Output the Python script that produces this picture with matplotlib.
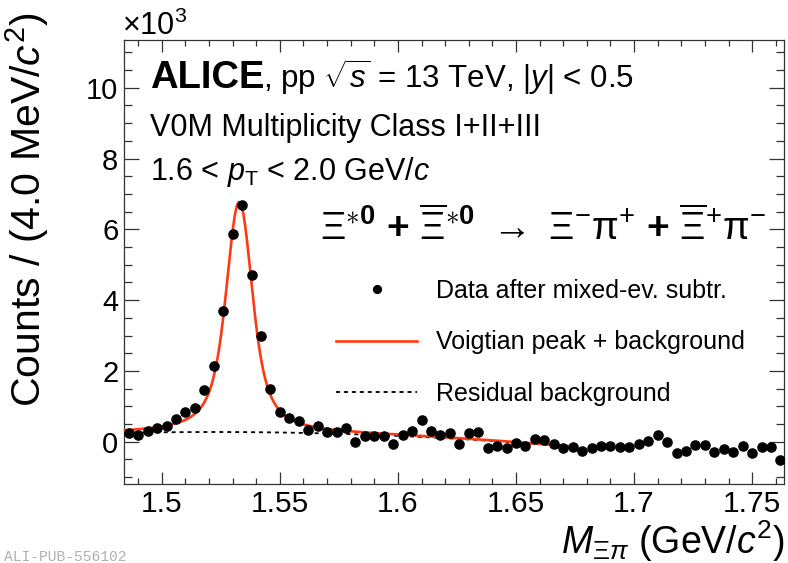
import numpy as np
import matplotlib
matplotlib.use("Agg")
import matplotlib.pyplot as plt
from matplotlib.ticker import MultipleLocator

plt.rcParams["font.family"] = ["Liberation Sans", "DejaVu Sans"]
plt.rcParams["mathtext.fontset"] = "custom"
plt.rcParams["mathtext.rm"] = "Liberation Sans"
plt.rcParams["mathtext.it"] = "Liberation Sans:italic"
plt.rcParams["mathtext.bf"] = "Liberation Sans:bold"

# invariant mass bin centres (GeV/c^2), 4 MeV bins
mass = 1.486 + 0.004 * np.arange(70)

# counts per bin in units of 10^3
counts_k = [
    0.25, 0.20, 0.31, 0.39, 0.45, 0.63, 0.85, 0.94, 1.46, 2.13,
    3.68, 5.88, 6.68, 4.71, 3.00, 1.49, 0.85, 0.66, 0.58, 0.34,
    0.45, 0.27, 0.27, 0.40, 0.00, 0.16, 0.16, 0.16, -0.07, 0.18,
    0.30, 0.60, 0.31, 0.18, 0.25, -0.06, 0.25, 0.28, -0.19, -0.13,
    -0.19, -0.03, -0.13, 0.09, 0.05, -0.07, -0.19, -0.16, -0.27, -0.19,
    -0.13, -0.11, -0.16, -0.16, -0.07, 0.03, 0.20, -0.01, -0.32, -0.25,
    -0.08, -0.08, -0.30, -0.21, -0.30, -0.13, -0.32, -0.16, -0.16, -0.51,
]

# fit parameters (Voigtian + quadratic residual background)
peak_mass = 1.5328
peak_gamma = 0.0091
peak_sigma = 0.0032
peak_height = 6.5
bkg_ref = 1.486
bkg_coef = [0.25, 1.338, -18.29]
fit_range = (1.484, 1.676)


def voigt(x, m0, sigma, gamma):
    t = np.linspace(-0.06, 0.06, 2401)
    g = np.exp(-0.5 * (t / sigma) ** 2)
    lor = (gamma / 2) / ((x[:, None] - m0 - t) ** 2 + (gamma / 2) ** 2)
    return (lor * g).sum(axis=1)


def residual_bkg(x):
    u = x - bkg_ref
    return bkg_coef[0] + bkg_coef[1] * u + bkg_coef[2] * u ** 2


xf = np.linspace(fit_range[0], fit_range[1], 600)
v = voigt(xf, peak_mass, peak_sigma, peak_gamma)
v0 = voigt(np.array([peak_mass]), peak_mass, peak_sigma, peak_gamma)[0]
fit_curve = peak_height * v / v0 + residual_bkg(xf)

red = "#fd3a12"

fig = plt.figure(figsize=(7.88, 5.63), dpi=100)
ax = fig.add_axes([124 / 788, 1 - 484 / 563, 660 / 788, 444 / 563])

ax.plot(xf, residual_bkg(xf), color="black", ls=(0, (2.2, 2.2)), lw=1.3,
        label="Residual background", zorder=2)
ax.plot(xf, fit_curve, color=red, lw=1.9, label="Voigtian peak + background", zorder=3)
ax.plot(mass, counts_k, "o", color="black", ms=6.6, label="Data after mixed-ev. subtr.",
        zorder=4)

ax.set_xlim(1.484, 1.7635)
ax.set_ylim(-1.195, 11.35)
ax.xaxis.set_major_locator(MultipleLocator(0.05))
ax.xaxis.set_minor_locator(MultipleLocator(0.01))
ax.yaxis.set_major_locator(MultipleLocator(2))
ax.yaxis.set_minor_locator(MultipleLocator(0.5))
ax.set_xticks([1.5, 1.55, 1.6, 1.65, 1.7, 1.75])
ax.set_xticklabels(["1.5", "1.55", "1.6", "1.65", "1.7", "1.75"])
ax.tick_params(which="both", direction="in", top=True, right=True,
               width=0.9, color="#333333")
ax.tick_params(axis="x", which="major", length=8.5, pad=4, labelsize=21.5)
ax.tick_params(axis="x", which="minor", length=4.3)
ax.tick_params(axis="y", which="major", length=11, pad=4, labelsize=21)
ax.tick_params(axis="y", which="minor", length=6)
for s in ax.spines.values():
    s.set_linewidth(0.9)
    s.set_color("#333333")

# axis titles
fig.text(0.034, 1 - 13 / 563, r"Counts / (4.0 MeV/$c^{2}$)", rotation=90,
         ha="center", va="top", fontsize=29.5)
fig.text(785 / 788, 1 - 554 / 563, r"$M_{\Xi\pi}$ (GeV/$c^{2}$)", ha="right",
         va="baseline", fontsize=27)
fig.text(122 / 788, 1 - 35 / 563, r"$\times$10$^{3}$", ha="left", va="baseline",
         fontsize=22)

# labels in the plot
fig.text(150 / 788, 1 - 88 / 563, "ALICE", fontsize=27.5, fontweight="bold",
         va="baseline")
fig.text(263 / 788, 1 - 88 / 563, r", pp $\sqrt{s}$ = 13 TeV, |$y$| < 0.5",
         fontsize=22.5, va="baseline")
fig.text(150 / 788, 1 - 136 / 563, "V0M Multiplicity Class I+II+III",
         fontsize=22, va="baseline")
fig.text(150 / 788, 1 - 180 / 563, r"1.6 < $p_{\rm T}$ < 2.0 GeV/$c$",
         fontsize=22, va="baseline")
fig.text(320 / 788, 1 - 240 / 563,
         r"$\Xi^{\ast\mathbf{0}}$ $\mathbf{+}$ $\overline{\Xi}^{\ast\mathbf{0}}$"
         r" $\rightarrow$ $\Xi^{-}\mathrm{\pi}^{+}$ $\mathbf{+}$ $\overline{\Xi}^{+}\mathrm{\pi}^{-}$",
         fontsize=28, va="baseline")

handles, labels = ax.get_legend_handles_labels()
order = [2, 1, 0]
ax.legend([handles[i] for i in order], [labels[i] for i in order],
          loc="upper left", bbox_to_anchor=(336 / 788, 1 - 279 / 563),
          bbox_transform=fig.transFigure, frameon=False, fontsize=18,
          handlelength=3.25, handletextpad=0.75, labelspacing=1.1,
          borderpad=0, borderaxespad=0, numpoints=1, markerscale=0.85)

fig.text(4 / 788, 1 - 561 / 563, "ALI-PUB-556102", fontsize=10.5,
         family="Liberation Mono", color="#b0b0b0", va="baseline")

fig.savefig("out.png", dpi=100)
